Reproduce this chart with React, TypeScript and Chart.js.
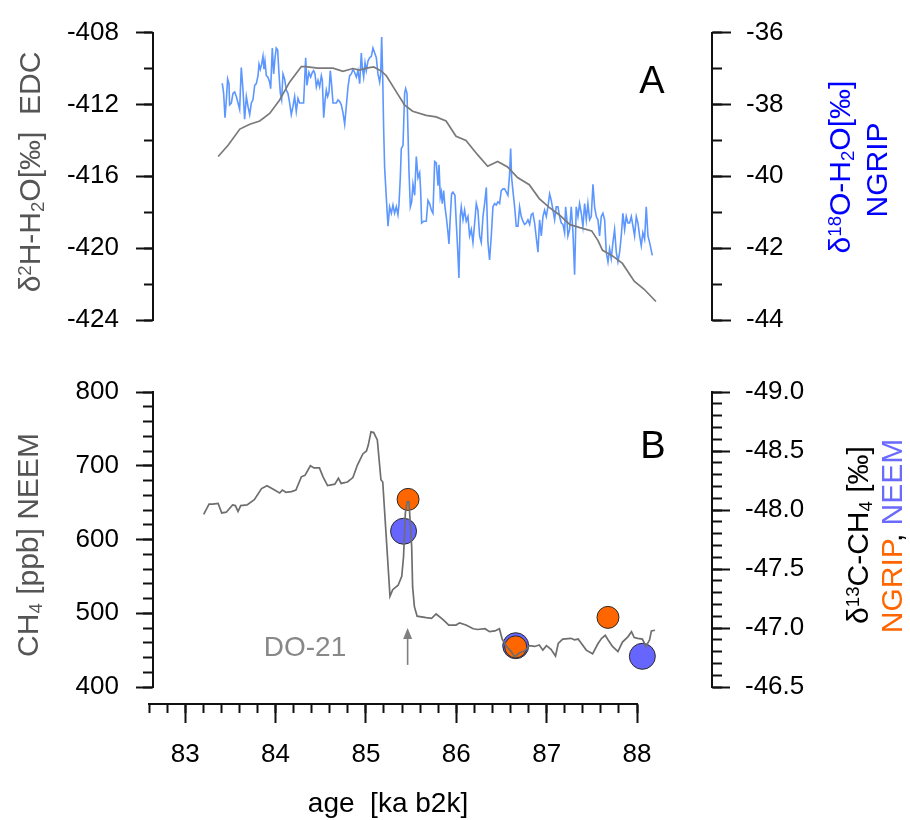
import React, { useEffect, useRef } from 'react';
import { Chart, registerables } from 'chart.js';

Chart.register(...registerables);

const FONT = "'Liberation Sans', Arial, Helvetica, sans-serif";

// ---------- shared x range (ka b2k) ----------
const PANEL_X_MIN = 82.65;
const PANEL_X_MAX = 88.83;
const AXIS_X_MIN = 82.6;
const AXIS_X_MAX = 88;

// ---------- Panel A: EDC deltaD ----------
const edcAge = [83.37, 83.48, 83.61, 83.72, 83.83, 83.94, 84.05, 84.16, 84.29, 84.34, 84.47, 84.64, 84.75, 84.86, 84.93, 85.01, 85.09, 85.17, 85.23, 85.34, 85.43, 85.52, 85.67, 85.78, 85.89, 86.0, 86.11, 86.24, 86.35, 86.46, 86.57, 86.68, 86.81, 86.92, 87.03, 87.14, 87.26, 87.37, 87.5, 87.57, 87.62, 87.73, 87.84, 87.97, 88.08, 88.21];
const edcD2H = [-414.9, -414.27, -413.37, -413.1, -412.92, -412.5, -411.75, -410.76, -409.89, -409.89, -409.98, -409.98, -410.16, -410.0, -410.09, -409.98, -409.91, -410.13, -410.4, -411.3, -412.02, -412.38, -412.61, -412.69, -412.92, -413.77, -414.0, -414.81, -415.44, -415.17, -415.48, -416.07, -416.47, -417.24, -417.73, -418.14, -418.69, -418.86, -419.04, -419.58, -420.12, -420.43, -420.85, -421.84, -422.29, -422.97];

// ---------- Panel A: NGRIP d18O ----------
const ngripAge = [
  83.416, 83.431, 83.446, 83.461, 83.475, 83.49, 83.497, 83.516, 83.534, 83.553,
  83.571, 83.59, 83.608, 83.626, 83.645, 83.663, 83.682, 83.7, 83.719, 83.737,
  83.755, 83.774, 83.792, 83.811, 83.822, 83.836, 83.851, 83.866, 83.877, 83.888,
  83.903, 83.921, 83.94, 83.951, 83.969, 83.984, 83.999, 84.013, 84.028, 84.043,
  84.058, 84.072, 84.087, 84.105, 84.124, 84.142, 84.161, 84.179, 84.198, 84.216,
  84.234, 84.253, 84.271, 84.29, 84.315, 84.338, 84.352, 84.374, 84.393, 84.411,
  84.426, 84.441, 84.456, 84.474, 84.492, 84.511, 84.522, 84.537, 84.551, 84.566,
  84.581, 84.596, 84.61, 84.625, 84.64, 84.658, 84.677, 84.695, 84.714, 84.732,
  84.75, 84.769, 84.787, 84.806, 84.824, 84.843, 84.861, 84.879, 84.898, 84.916,
  84.935, 84.953, 84.964, 84.979, 84.994, 85.008, 85.027, 85.045, 85.064, 85.082,
  85.101, 85.119, 85.137, 85.156, 85.167, 85.178, 85.189, 85.2, 85.211, 85.229,
  85.248, 85.266, 85.285, 85.303, 85.321, 85.34, 85.358, 85.369, 85.384, 85.395,
  85.414, 85.432, 85.443, 85.458, 85.469, 85.48, 85.495, 85.51, 85.524, 85.543,
  85.561, 85.58, 85.598, 85.609, 85.62, 85.642, 85.671, 85.69, 85.708, 85.727,
  85.745, 85.764, 85.782, 85.801, 85.812, 85.826, 85.837, 85.848, 85.863, 85.878,
  85.892, 85.911, 85.922, 85.937, 85.951, 85.966, 85.988, 86.003, 86.018, 86.032,
  86.047, 86.058, 86.077, 86.095, 86.113, 86.132, 86.15, 86.169, 86.187, 86.206,
  86.224, 86.242, 86.261, 86.279, 86.298, 86.316, 86.335, 86.353, 86.371, 86.39,
  86.408, 86.427, 86.445, 86.463, 86.482, 86.5, 86.519, 86.537, 86.556, 86.574,
  86.592, 86.604, 86.615, 86.629, 86.648, 86.666, 86.685, 86.703, 86.721, 86.74,
  86.758, 86.777, 86.795, 86.814, 86.832, 86.85, 86.869, 86.887, 86.906, 86.924,
  86.943, 86.961, 86.979, 86.998, 87.016, 87.035, 87.053, 87.072, 87.09, 87.108,
  87.127, 87.145, 87.164, 87.182, 87.2, 87.212, 87.226, 87.237, 87.256, 87.274,
  87.293, 87.311, 87.329, 87.348, 87.366, 87.385, 87.403, 87.422, 87.44, 87.458,
  87.477, 87.495, 87.514, 87.532, 87.551, 87.569, 87.587, 87.606, 87.624, 87.643,
  87.661, 87.68, 87.698, 87.716, 87.735, 87.753, 87.772, 87.79, 87.809, 87.827,
  87.845, 87.864, 87.882, 87.901, 87.919, 87.938, 87.956, 87.974, 87.993, 88.011,
  88.03, 88.048, 88.066, 88.085, 88.103, 88.122, 88.14, 88.17,
];
const ngripD18O = [
  -37.41, -37.69, -38.37, -37.87, -37.29, -37.42, -38.01, -37.96, -37.69, -37.65,
  -37.78, -37.96, -38.14, -36.97, -37.6, -38.41, -37.78, -38.05, -38.28, -37.96,
  -37.87, -37.47, -37.42, -37.2, -36.88, -37.02, -36.88, -36.66, -37.02, -36.79,
  -37.2, -37.24, -37.38, -37.56, -36.43, -37.15, -36.7, -36.43, -36.48, -37.15,
  -37.69, -37.87, -37.15, -37.29, -37.6, -37.69, -37.96, -38.28, -38.05, -37.78,
  -38.19, -37.83, -37.96, -37.96, -37.96, -36.7, -37.47, -37.11, -37.24, -37.11,
  -37.06, -37.15, -37.51, -37.33, -37.51, -37.2, -37.33, -38.37, -37.92, -37.6,
  -37.78, -37.65, -37.06, -37.47, -37.96, -37.96, -37.96, -37.87, -37.92, -38.01,
  -38.23, -38.55, -38.05, -37.51, -37.2, -37.15, -37.02, -37.11, -37.24, -37.06,
  -37.42, -36.57, -36.97, -37.24, -36.84, -37.06, -36.79, -36.7, -36.66, -36.43,
  -36.57, -36.7, -37.15, -37.38, -37.15, -36.12, -37.15, -38.68, -39.77, -40.58,
  -41.39, -40.85, -41.03, -40.8, -41.03, -40.85, -41.07, -40.8, -40.04, -39.23,
  -39.14, -37.69, -37.56, -37.69, -38.77, -39.86, -40.85, -40.71, -40.22, -40.53,
  -39.45, -40.04, -39.9, -40.4, -41.3, -41.25, -41.25, -40.67, -40.76, -40.94,
  -41.03, -39.59, -39.63, -40.26, -39.68, -40.58, -40.44, -40.76, -40.4, -40.85,
  -41.12, -41.57, -41.88, -41.12, -40.49, -40.44, -40.53, -41.3, -42.02, -42.83,
  -41.12, -40.85, -41.21, -40.94, -41.25, -41.12, -41.66, -41.48, -41.84, -41.3,
  -40.76, -40.94, -41.66, -41.84, -41.12, -40.76, -40.31, -41.84, -42.33, -41.66,
  -40.85, -40.76, -40.8, -40.71, -40.76, -40.4, -40.35, -40.35, -40.44, -40.53,
  -39.95, -39.23, -40.04, -40.4, -40.85, -41.39, -41.39, -40.85, -41.12, -41.25,
  -41.34, -41.3, -41.21, -41.34, -41.07, -41.03, -41.3, -41.7, -42.11, -41.21,
  -41.66, -41.12, -40.94, -41.12, -40.85, -40.49, -40.67, -40.94, -41.21, -40.85,
  -40.85, -41.12, -41.3, -41.34, -41.57, -40.85, -41.21, -41.66, -41.48, -40.85,
  -41.57, -42.74, -40.85, -41.12, -40.76, -41.03, -41.39, -40.76, -41.21, -40.76,
  -41.21, -41.12, -40.22, -40.85, -41.12, -41.21, -41.66, -41.12, -41.03, -41.21,
  -42.11, -42.38, -42.02, -42.29, -41.84, -41.48, -42.11, -42.38, -42.11, -41.66,
  -41.03, -41.48, -41.12, -41.3, -41.3, -41.12, -41.39, -41.66, -41.12, -41.3,
  -41.66, -41.93, -41.57, -41.75, -40.85, -41.66, -41.84, -42.2,
];

// ---------- Panel B: NEEM CH4 ----------
const ch4Age = [83.21, 83.27, 83.31, 83.37, 83.41, 83.46, 83.53, 83.56, 83.59, 83.62, 83.69, 83.77, 83.85, 83.91, 83.98, 84.05, 84.08, 84.12, 84.18, 84.23, 84.29, 84.33, 84.39, 84.43, 84.49, 84.53, 84.58, 84.66, 84.7, 84.73, 84.8, 84.86, 84.91, 84.97, 85.01, 85.03, 85.06, 85.09, 85.13, 85.17, 85.19, 85.27, 85.3, 85.36, 85.4, 85.42, 85.44, 85.46, 85.48, 85.51, 85.52, 85.54, 85.57, 85.67, 85.73, 85.78, 85.86, 85.92, 86.0, 86.04, 86.11, 86.19, 86.24, 86.32, 86.37, 86.43, 86.48, 86.51, 86.56, 86.61, 86.65, 86.7, 86.76, 86.81, 86.87, 86.92, 86.96, 87.0, 87.05, 87.1, 87.13, 87.18, 87.27, 87.31, 87.35, 87.44, 87.51, 87.57, 87.61, 87.65, 87.68, 87.73, 87.79, 87.84, 87.9, 87.94, 87.97, 88.01, 88.06, 88.1, 88.14, 88.16, 88.2];
const ch4Ppb = [634, 648, 648, 649, 636, 637, 647, 646, 638, 646, 647, 654, 669, 673, 668, 663, 667, 664, 665, 667, 685, 687, 700, 697, 697, 685, 673, 675, 683, 676, 678, 684, 701, 716, 720, 728, 746, 745, 735, 681, 678, 523, 532, 538, 550, 577, 636, 651, 651, 590, 536, 509, 496, 494, 493, 499, 491, 484, 484, 487, 484, 479, 478, 479, 475, 476, 479, 465, 455, 448, 441, 446, 449, 456, 455, 457, 450, 456, 451, 442, 459, 465, 466, 464, 465, 450, 445, 459, 466, 470, 464, 455, 448, 461, 468, 475, 467, 466, 465, 455, 464, 476, 477];

// ---------- Panel B: d13C-CH4 ----------
const ngripD13Age = [85.47, 86.66, 87.68];
const ngripD13C = [-48.09, -46.84, -47.09];
const neemD13Age = [85.42, 86.66, 88.06];
const neemD13C = [-47.82, -46.85, -46.76];

// ---------- DO-21 marker ----------
const DO21_AGE = 85.465;
const DO21_ARROW_FROM = 430;
const DO21_ARROW_TO = 480;

// ---------- axis ticks ----------
const edcTicks = { min: -424, max: -408, major: 4, minor: 2 };
const ngripTicks = { min: -44, max: -36, major: 2, minor: 1 };
const ch4Ticks = { min: 400, max: 800, major: 100, minor: 20 };
const d13Ticks = { min: -49, max: -46.5, major: 0.5, minor: 0.1 };
const ageTicks = { major: 1, minor: 0.2 };

const toXY = (xs: number[], ys: number[]) => xs.map((x, i) => ({ x, y: ys[i] }));

const AXIS_COLOR = '#111';
const AXIS_W = 2;
const TICK_FONT = 26;

function majorY(position: 'left' | 'right', t: any, width: number, tickLen: number, fmt: (v: number) => string, reverse = false) {
  return {
    type: 'linear',
    position,
    min: t.min,
    max: t.max,
    reverse,
    weight: 1,
    border: { display: true, color: AXIS_COLOR, width: AXIS_W },
    grid: { drawOnChartArea: false, drawTicks: true, tickLength: tickLen, tickColor: AXIS_COLOR, tickWidth: AXIS_W },
    ticks: {
      stepSize: t.major,
      includeBounds: false,
      padding: position === 'left' ? 17 : 15,
      color: '#000',
      font: { family: FONT, size: TICK_FONT },
      callback: (v: any) => fmt(Number(v)),
    },
    afterFit: (s: any) => { s.width = width; },
  };
}

function minorY(position: 'left' | 'right', t: any, tickLen: number, reverse = false) {
  return {
    type: 'linear',
    position,
    min: t.min,
    max: t.max,
    reverse,
    weight: 0,
    border: { display: false },
    grid: { drawOnChartArea: false, drawTicks: true, tickLength: tickLen, tickColor: AXIS_COLOR, tickWidth: AXIS_W },
    ticks: { stepSize: t.minor, includeBounds: false, display: false },
    afterFit: (s: any) => { s.width = 0; },
  };
}

const baseOptions = {
  responsive: false,
  animation: false,
  events: [],
  plugins: { legend: { display: false }, tooltip: { enabled: false } },
};

const arrowPlugin = {
  id: 'do21Arrow',
  afterDatasetsDraw(chart: any) {
    const { ctx, scales } = chart;
    const x = scales.x.getPixelForValue(DO21_AGE);
    const yBottom = scales.yL.getPixelForValue(DO21_ARROW_FROM);
    const yTip = scales.yL.getPixelForValue(DO21_ARROW_TO);
    ctx.save();
    ctx.strokeStyle = '#808080';
    ctx.fillStyle = '#808080';
    ctx.lineWidth = 1.6;
    ctx.beginPath();
    ctx.moveTo(x, yBottom);
    ctx.lineTo(x, yTip + 8);
    ctx.stroke();
    ctx.beginPath();
    ctx.moveTo(x, yTip);
    ctx.lineTo(x - 4.5, yTip + 11);
    ctx.lineTo(x + 4.5, yTip + 11);
    ctx.closePath();
    ctx.fill();
    ctx.restore();
  },
};

const rot = (cx: number, cy: number, color: string, size = 30): React.CSSProperties => ({
  position: 'absolute',
  left: cx,
  top: cy,
  transform: 'translate(-50%, -50%) rotate(-90deg)',
  whiteSpace: 'nowrap',
  fontSize: size,
  lineHeight: 1,
  color,
  fontFamily: FONT,
});

const flat = (cx: number, cy: number, color: string, size: number): React.CSSProperties => ({
  position: 'absolute',
  left: cx,
  top: cy,
  transform: 'translate(-50%, -50%)',
  whiteSpace: 'nowrap',
  fontSize: size,
  lineHeight: 1,
  color,
  fontFamily: FONT,
});

const supS: React.CSSProperties = { fontSize: '0.62em', verticalAlign: '0.5em', lineHeight: 0 };
const subS: React.CSSProperties = { fontSize: '0.62em', verticalAlign: '-0.22em', lineHeight: 0 };

const canvasStyle: React.CSSProperties = { position: 'absolute', left: 0, top: 0 };

export default function App() {
  const refA = useRef<HTMLCanvasElement>(null);
  const refB = useRef<HTMLCanvasElement>(null);
  const refX = useRef<HTMLCanvasElement>(null);

  useEffect(() => {
    const charts: Chart[] = [];

    charts.push(new Chart(refA.current as HTMLCanvasElement, {
      type: 'scatter',
      data: {
        datasets: [
          { data: toXY(edcAge, edcD2H), yAxisID: 'yL', showLine: true, borderColor: '#7a7a7a', borderWidth: 1.7, pointRadius: 0, order: 0 },
          { data: toXY(ngripAge, ngripD18O), yAxisID: 'yR', showLine: true, borderColor: '#5c96ff', borderWidth: 1.6, pointRadius: 0, order: 1 },
        ],
      },
      options: {
        ...baseOptions,
        layout: { padding: { top: 24, bottom: 500, left: 0, right: 0 } },
        scales: {
          x: { type: 'linear', min: PANEL_X_MIN, max: PANEL_X_MAX, display: false },
          yL: majorY('left', edcTicks, 153, 17, (v) => String(v)),
          yLm: minorY('left', edcTicks, 9),
          yR: majorY('right', ngripTicks, 198, 19, (v) => String(v)),
          yRm: minorY('right', ngripTicks, 10),
        },
      } as any,
    }));

    charts.push(new Chart(refB.current as HTMLCanvasElement, {
      type: 'scatter',
      data: {
        datasets: [
          { data: toXY(ch4Age, ch4Ppb), yAxisID: 'yL', showLine: true, borderColor: '#6e6e6e', borderWidth: 1.7, pointRadius: 0, order: 0 },
          { data: toXY(ngripD13Age, ngripD13C), yAxisID: 'yR', pointRadius: 11, backgroundColor: '#ff6600', borderColor: '#2a2a2a', borderWidth: 1, order: 1 },
          { data: toXY(neemD13Age, neemD13C), yAxisID: 'yR', pointRadius: 13, backgroundColor: '#6666ff', borderColor: '#2a2a2a', borderWidth: 1, order: 2 },
        ],
      },
      options: {
        ...baseOptions,
        layout: { padding: { top: 392, bottom: 133, left: 0, right: 0 } },
        scales: {
          x: { type: 'linear', min: PANEL_X_MIN, max: PANEL_X_MAX, display: false },
          yL: majorY('left', ch4Ticks, 153, 17, (v) => String(v)),
          yLm: minorY('left', ch4Ticks, 10),
          yR: majorY('right', d13Ticks, 198, 18, (v) => v.toFixed(1), true),
          yRm: minorY('right', d13Ticks, 10, true),
        },
      } as any,
      plugins: [arrowPlugin],
    }));

    charts.push(new Chart(refX.current as HTMLCanvasElement, {
      type: 'scatter',
      data: { datasets: [] },
      options: {
        ...baseOptions,
        layout: { padding: { top: 600, bottom: 0, left: 149, right: 273 } },
        scales: {
          y: { type: 'linear', display: false, min: 0, max: 1 },
          x: {
            type: 'linear',
            position: 'bottom',
            min: AXIS_X_MIN,
            max: AXIS_X_MAX,
            weight: 1,
            border: { display: true, color: AXIS_COLOR, width: AXIS_W },
            grid: { drawOnChartArea: false, drawTicks: true, tickLength: 19, tickColor: AXIS_COLOR, tickWidth: AXIS_W },
            ticks: {
              stepSize: ageTicks.major,
              includeBounds: false,
              padding: 16,
              color: '#000',
              maxRotation: 0,
              autoSkip: false,
              font: { family: FONT, size: TICK_FONT },
              callback: (v: any) => String(v),
            },
            afterFit: (s: any) => { s.height = 116; },
          },
          xm: {
            type: 'linear',
            position: 'bottom',
            min: AXIS_X_MIN,
            max: AXIS_X_MAX,
            weight: 0,
            border: { display: false },
            grid: { drawOnChartArea: false, drawTicks: true, tickLength: 9, tickColor: AXIS_COLOR, tickWidth: AXIS_W },
            ticks: { stepSize: ageTicks.minor, includeBounds: false, display: false, autoSkip: false },
            afterFit: (s: any) => { s.height = 0; },
          },
        },
      } as any,
    }));

    return () => charts.forEach((c) => c.destroy());
  }, []);

  return (
    <div style={{ position: 'absolute', left: 0, top: 0, width: 910, height: 820, background: '#fff', overflow: 'hidden', fontFamily: FONT }}>
      <canvas ref={refA} width={910} height={820} style={canvasStyle} />
      <canvas ref={refB} width={910} height={820} style={canvasStyle} />
      <canvas ref={refX} width={910} height={820} style={canvasStyle} />

      <div style={rot(30, 172, '#555')}>
        δ<span style={supS}>2</span>H-H<span style={subS}>2</span>O[‰]&nbsp;&nbsp;EDC
      </div>
      <div style={rot(840, 167, '#0000ff')}>
        δ<span style={supS}>18</span>O-H<span style={subS}>2</span>O[‰]
      </div>
      <div style={rot(877, 170, '#0000ff')}>NGRIP</div>

      <div style={rot(28, 545, '#555')}>
        CH<span style={subS}>4</span> [ppb] NEEM
      </div>
      <div style={rot(858, 535, '#000')}>
        δ<span style={supS}>13</span>C-CH<span style={subS}>4</span> [‰]
      </div>
      <div style={rot(892, 536, '#000')}>
        <span style={{ color: '#ff6600' }}>NGRIP</span>, <span style={{ color: '#6a6aff' }}>NEEM</span>
      </div>

      <div style={flat(652, 80, '#000', 38)}>A</div>
      <div style={flat(653, 445, '#000', 38)}>B</div>
      <div style={flat(305, 647, '#888', 28)}>DO-21</div>
      <div style={flat(388, 803, '#000', 28)}>age&nbsp;&nbsp;[ka b2k]</div>
    </div>
  );
}
